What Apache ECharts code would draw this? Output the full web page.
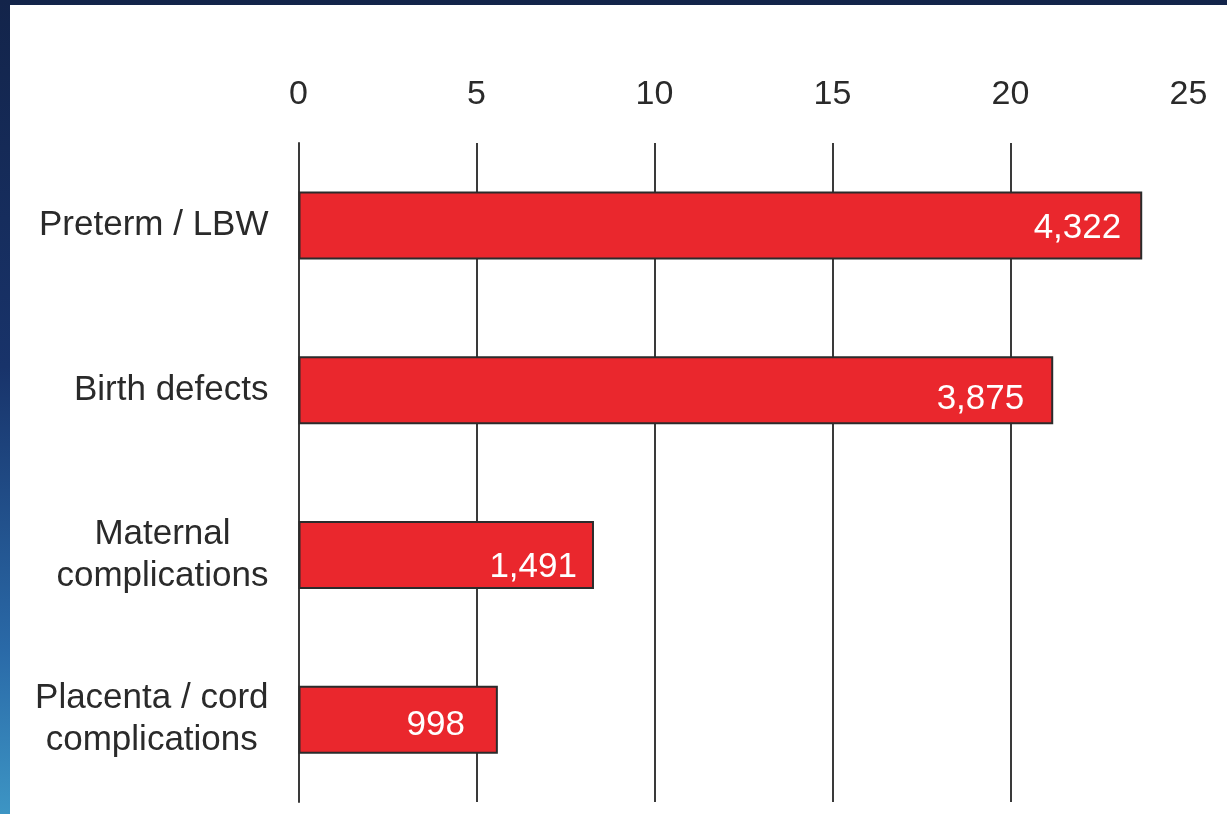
<!DOCTYPE html>
<html>
<head>
<meta charset="utf-8">
<script src="https://cdn.jsdelivr.net/npm/echarts@6/dist/echarts.min.js"></script>
<style>
  html, body { margin: 0; padding: 0; width: 1227px; height: 814px; overflow: hidden; }
  body { background: linear-gradient(to bottom, #13244a 0%, #18336a 45%, #2a6aa8 80%, #3d95c4 100%); position: relative; }
  #chart { position: absolute; left: 10px; top: 5px; width: 1217px; height: 809px; background: #ffffff; }
</style>
</head>
<body>
<div id="chart"></div>
<script>
// ---- data ----
const categories = ['Preterm / LBW', 'Birth defects', 'Maternal\ncomplications', 'Placenta / cord\ncomplications'];
const percentValues = [23.7, 21.2, 8.3, 5.6];
const countLabels = ['4,322', '3,875', '1,491', '998'];
const tickLabels = ['0', '5', '10', '15', '20', '25'];

// ---- styling ----
const labelShift = [[0, 3], [-8, 9], [4, 12], [-12, 6]];
const gridColor = '#3a3a3a';

const chart = echarts.init(document.getElementById('chart'), null, { renderer: 'canvas' });

const option = {
  animation: false,
  backgroundColor: '#ffffff',
  grid: { left: 288.5, right: 38.5, top: 138, bottom: 12, containLabel: false },
  xAxis: {
    type: 'value',
    position: 'top',
    min: 0,
    max: 25,
    interval: 5,
    axisLine: { show: false },
    axisTick: { show: false },
    axisLabel: {
      margin: 31,
      fontSize: 34,
      fontFamily: 'Liberation Sans',
      color: '#2a2a2a',
      formatter: function (v) { return tickLabels[Math.round(v / 5)]; }
    },
    splitLine: {
      show: true,
      lineStyle: { color: ['transparent', gridColor, gridColor, gridColor, gridColor, 'transparent'], width: 2 }
    }
  },
  yAxis: {
    type: 'category',
    inverse: true,
    data: categories,
    axisLine: { show: true, lineStyle: { color: gridColor, width: 2 } },
    axisTick: { show: false },
    axisLabel: {
      margin: 30,
      fontSize: 35,
      fontFamily: 'Liberation Sans',
      color: '#2a2a2a',
      formatter: function (v) {
        return v.split('\n').map(function (l) { return '{c|' + l + '}'; }).join('\n');
      },
      rich: {
        c: { align: 'center', fontSize: 35, lineHeight: 42, fontFamily: 'Liberation Sans', color: '#2a2a2a' }
      }
    },
    splitLine: { show: false }
  },
  series: [{
    type: 'bar',
    barWidth: 68,
    data: percentValues.map(function (v, i) {
      return {
        value: v,
        label: { offset: labelShift[i] }
      };
    }),
    itemStyle: { color: '#ea272d', borderColor: '#2b2b2b', borderWidth: 2 },
    label: {
      show: true,
      position: 'insideRight',
      distance: 21,
      fontSize: 35,
      fontFamily: 'Liberation Sans',
      color: '#ffffff',
      formatter: function (p) { return countLabels[p.dataIndex]; }
    }
  }]
};

chart.setOption(option);
</script>
</body>
</html>
